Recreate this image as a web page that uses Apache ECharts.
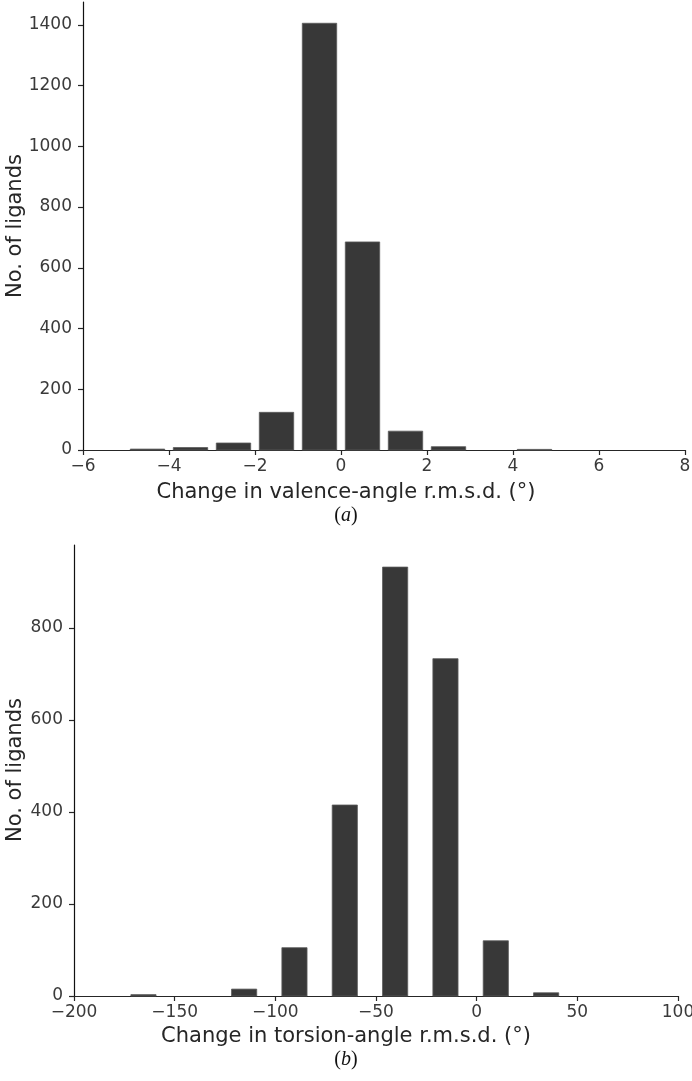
<!DOCTYPE html>
<html>
<head>
<meta charset="utf-8">
<script src="https://cdn.jsdelivr.net/npm/echarts@6/dist/echarts.min.js"></script>
<style>
  html, body { margin: 0; padding: 0; background: #fff; }
  #chart { width: 692px; height: 1081px; }
</style>
</head>
<body>
<div id="chart"></div>
<script>
// ---- Data (a): valence-angle histogram ----
const valenceCenters = [-5.5, -4.5, -3.5, -2.5, -1.5, -0.5, 0.5, 1.5, 2.5, 3.5, 4.5, 5.5, 6.5, 7.5];
const valenceCounts  = [0, 3, 8, 23, 124, 1405, 685, 62, 11, 0, 2, 0, 0, 0];
const valenceXTicks  = [-6, -4, -2, 0, 2, 4, 6, 8];
const valenceYTicks  = [0, 200, 400, 600, 800, 1000, 1200, 1400];

// ---- Data (b): torsion-angle histogram ----
const torsionCenters = [-165.5, -140.5, -115.5, -90.5, -65.5, -40.5, -15.5, 9.5, 34.5, 59.5, 84.5];
const torsionCounts  = [3, 0, 15, 105, 415, 932, 733, 120, 7, 0, 0];
const torsionXTicks  = [-200, -150, -100, -50, 0, 50, 100];
const torsionYTicks  = [0, 200, 400, 600, 800];

const texts = {
  yName: 'No. of ligands',
  xNameA: 'Change in valence-angle r.m.s.d. (°)',
  xNameB: 'Change in torsion-angle r.m.s.d. (°)',
  labelA: 'a',
  labelB: 'b'
};

// bin geometry (in data units)
const valenceBarWidth = 0.8;
const torsionBarWidth = 12.5;

const FONT = 'DejaVu Sans';
const TICK_COLOR = '#3a3a3a';
const AXIS_COLOR = '#262626';
const BAR_FILL = '#383838';
const BAR_EDGE = '#5a5a5a';

function makeRender(w) {
  return function (params, api) {
    const x = api.value(0), y = api.value(1);
    if (!y) return null;
    const p0 = api.coord([x - w / 2, y]);
    const p1 = api.coord([x + w / 2, 0]);
    return {
      type: 'rect',
      shape: { x: p0[0], y: p0[1], width: p1[0] - p0[0], height: p1[1] - p0[1] },
      style: { fill: BAR_FILL, stroke: BAR_EDGE, lineWidth: 0.8 }
    };
  };
}

function fmt(v) { return v < 0 ? '\u2212' + Math.abs(v) : String(v); }

function xAxisCfg(gridIndex, min, max, ticks) {
  return {
    type: 'value', gridIndex, min, max,
    axisLine: { show: true, onZero: false, lineStyle: { color: AXIS_COLOR, width: 1.2 } },
    axisTick: { show: true, length: 5, customValues: ticks, lineStyle: { color: AXIS_COLOR, width: 1.2 } },
    axisLabel: { customValues: ticks, margin: 8, fontFamily: FONT, fontSize: 17, color: TICK_COLOR, formatter: fmt },
    splitLine: { show: false }
  };
}

function yAxisCfg(gridIndex, max, ticks) {
  return {
    type: 'value', gridIndex, min: 0, max,
    axisLine: { show: true, onZero: false, lineStyle: { color: '#111', width: 1.2 } },
    axisTick: { show: true, length: 5, customValues: ticks, lineStyle: { color: AXIS_COLOR, width: 1.2 } },
    axisLabel: { customValues: ticks, margin: 11, fontFamily: FONT, fontSize: 17, color: TICK_COLOR, formatter: fmt },
    splitLine: { show: false }
  };
}

function yName(cx, cy) {
  return {
    type: 'text', x: cx, y: cy, rotation: Math.PI / 2,
    style: { text: texts.yName, font: '21px "DejaVu Sans"', fill: AXIS_COLOR, align: 'center', verticalAlign: 'middle' }
  };
}

function caption(top, letter) {
  return {
    type: 'text', left: 'center', top,
    style: { text: '({i|' + letter + '})', font: '20px "Liberation Serif"', fill: '#111',
             rich: { i: { fontStyle: 'italic', fontFamily: 'Liberation Serif', fontSize: 20, fill: '#111' } } }
  };
}

const chart = echarts.init(document.getElementById('chart'), null, { renderer: 'canvas' });

const option = {
  animation: false,
  backgroundColor: '#fff',
  grid: [
    { left: 83, top: 2, width: 602, height: 448, containLabel: false, outerBoundsMode: 'none' },
    { left: 74, top: 545, width: 604, height: 451, containLabel: false, outerBoundsMode: 'none' }
  ],
  xAxis: [
    xAxisCfg(0, -6, 8, valenceXTicks),
    xAxisCfg(1, -200, 100, torsionXTicks)
  ],
  yAxis: [
    yAxisCfg(0, 1475, valenceYTicks),
    yAxisCfg(1, 980, torsionYTicks)
  ],
  series: [
    {
      type: 'custom', xAxisIndex: 0, yAxisIndex: 0,
      renderItem: makeRender(valenceBarWidth),
      encode: { x: 0, y: 1 },
      data: valenceCenters.map((c, i) => [c, valenceCounts[i]])
    },
    {
      type: 'custom', xAxisIndex: 1, yAxisIndex: 1,
      renderItem: makeRender(torsionBarWidth),
      encode: { x: 0, y: 1 },
      data: torsionCenters.map((c, i) => [c, torsionCounts[i]])
    }
  ],
  graphic: [
    yName(16, 226),
    yName(16, 770),
    { type: 'text', left: 'center', top: 482,
      style: { text: texts.xNameA, font: '21px "DejaVu Sans"', fill: AXIS_COLOR } },
    caption(506, texts.labelA),
    { type: 'text', left: 'center', top: 1026,
      style: { text: texts.xNameB, font: '21px "DejaVu Sans"', fill: AXIS_COLOR } },
    caption(1050, texts.labelB)
  ]
};

chart.setOption(option);
</script>
</body>
</html>
